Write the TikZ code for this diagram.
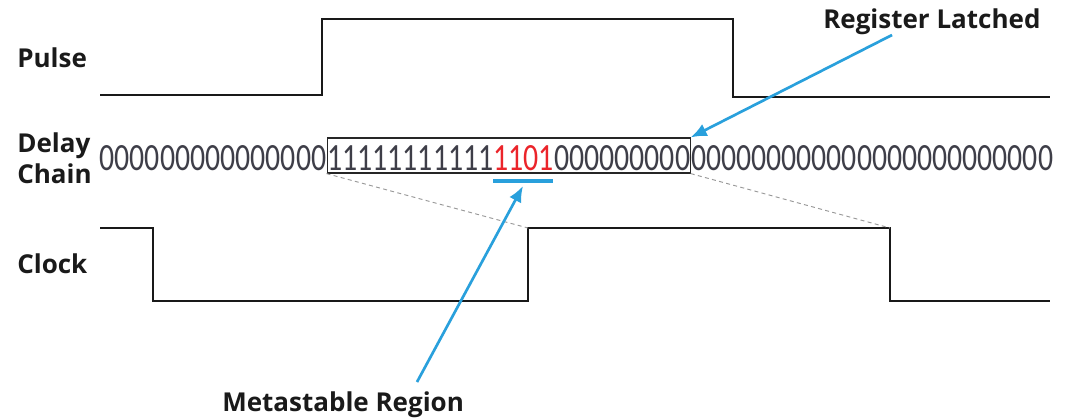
\documentclass[tikz,border=0pt]{standalone}
\usepackage{fontspec}
\setmainfont{Open Sans}
\newfontfamily\digitfont{Carlito}
\usetikzlibrary{arrows.meta,calc}
\definecolor{wblue}{RGB}{41,160,220}
\definecolor{mred}{RGB}{235,36,42}
\definecolor{lbl}{RGB}{26,26,26}
\definecolor{dig}{RGB}{62,62,72}
\begin{document}
\begin{tikzpicture}[x=0.75pt,y=-0.75pt,
  wave/.style={line width=2.2pt, line join=miter, draw=black!90},
  lab/.style={font=\bfseries\fontsize{19.5}{23}\selectfont, text=lbl, inner sep=0},
  callout/.style={draw=wblue, line width=2pt, -{Latex[length=12pt,width=10pt]}},
  guide/.style={draw=black!40, line width=0.7pt, dash pattern=on 3pt off 2.5pt},
  digits/.style={inner sep=0, text=dig}]
\useasboundingbox (0,0) rectangle (1068,419);
\fill[white] (0,0) rectangle (1068,419);

% labels
\node[lab, anchor=base west] (pulse) at (17,67) {Pulse};
\node[lab, anchor=base west, align=left] (delay) at (17,183) {Delay\\Chain};
\node[lab, anchor=base west] (clock) at (17,273) {Clock};
\node[lab, anchor=base west] (reg) at (823,28) {Register Latched};
\node[lab, anchor=base west] (meta) at (222,411) {Metastable Region};

% waveforms
\draw[wave] (100,95) -- (322,95) -- (322,19) -- (733,19) -- (733,97) -- (1050,97);
\draw[wave] (100,228) -- (153,228) -- (153,301) -- (528,301) -- (528,228) -- (890,228) -- (890,301) -- (1050,301);

% delay chain
\node[digits, draw=black!85, line width=0.9pt, inner xsep=0pt, inner ysep=0pt,
      text height=24pt, text depth=2.25pt, anchor=base west] (box) at (326.5,170)
  {\resizebox{272.25pt}{18.75pt}{\digitfont 11111111111\textcolor{mred}{1101}000000000}};
\node[digits, anchor=base east] (left) at (box.base west)
  {\resizebox{170pt}{18.75pt}{\digitfont 000000000000000}};
\node[digits, anchor=base west] (right) at (box.base east)
  {\resizebox{271.5pt}{18.75pt}{\digitfont 000000000000000000000000}};

% guides
\coordinate (ckrise) at (528,228);
\coordinate (ckfall) at (890,228);
\draw[guide] (box.south west) -- (ckrise);
\draw[guide] (box.south east) -- (ckfall);

% metastable bar and callouts
\coordinate (msl) at (493,181);
\coordinate (msr) at (553,181);
\draw[wblue, line width=2.3pt] (msl) -- (msr);
\coordinate (mstail) at (417,382);
\draw[callout] (mstail) -- ($(msl)!0.5!(msr)+(0,5)$);
\coordinate (rltail) at (892,35);
\draw[callout] (rltail) -- (box.north east);
\end{tikzpicture}
\end{document}
